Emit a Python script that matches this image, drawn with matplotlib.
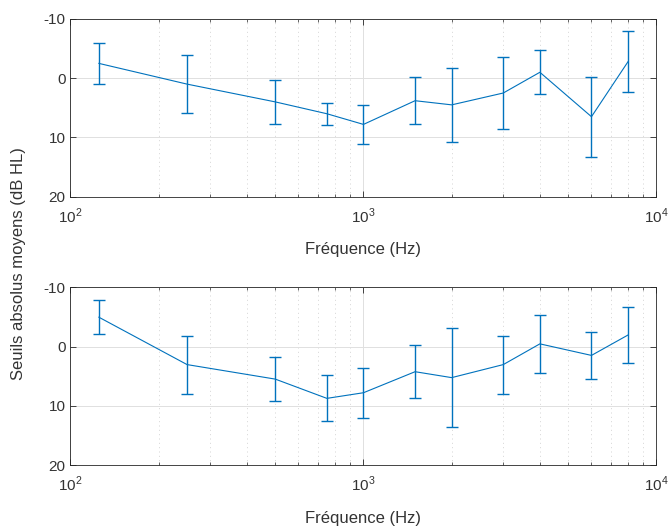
import numpy as np
import matplotlib
matplotlib.use("Agg")
import matplotlib.pyplot as plt
from matplotlib.ticker import LogLocator, FixedLocator, NullFormatter

plt.rcParams['font.family'] = ['Liberation Sans', 'DejaVu Sans']
plt.rcParams['mathtext.fontset'] = 'custom'
plt.rcParams['mathtext.rm'] = 'Liberation Sans'

freqs = [125, 250, 500, 750, 1000, 1500, 2000, 3000, 4000, 6000, 8000]

mean_top = [-2.5, 1.0, 4.0, 6.0, 7.8, 3.8, 4.5, 2.5, -1.0, 6.5, -2.8]
err_top = [3.5, 4.95, 3.7, 1.85, 3.3, 3.95, 6.3, 6.1, 3.75, 6.75, 5.1]

mean_bot = [-4.95, 3.05, 5.5, 8.75, 7.8, 4.25, 5.25, 3.05, -0.45, 1.5, -1.95]
err_bot = [2.85, 4.9, 3.7, 3.9, 4.2, 4.5, 8.35, 4.9, 4.9, 4.0, 4.8]

yticks = [-10, 0, 10, 20]
ytick_labels = ['-10', '0', '10', '20']
xlabel = 'Fréquence (Hz)'
ylabel = 'Seuils absolus moyens (dB HL)'

blue = '#0072BD'
axcol = '#262626'
txtcol = '#333333'

fig = plt.figure(figsize=(6.7, 5.28), dpi=100)
ax1 = fig.add_axes([0.1052, 0.6275, 0.8746, 0.3366])
ax2 = fig.add_axes([0.1052, 0.1193, 0.8746, 0.3366])

for ax, m, e in [(ax1, mean_top, err_top), (ax2, mean_bot, err_bot)]:
    ax.errorbar(freqs, m, yerr=e, color=blue, lw=0.8, elinewidth=1.0,
                capsize=4.3, capthick=1.0, zorder=3)
    ax.set_xscale('log')
    ax.set_xlim(100, 10000)
    ax.set_ylim(20, -10)
    ax.set_yticks(yticks)
    ax.set_yticklabels(ytick_labels)
    ax.xaxis.set_major_locator(FixedLocator([100, 1000, 10000]))
    ax.set_xticklabels([r'$10^2$', r'$10^3$', r'$10^4$'])
    ax.xaxis.set_minor_locator(LogLocator(base=10, subs=np.arange(2, 10)))
    ax.xaxis.set_minor_formatter(NullFormatter())
    ax.tick_params(which='both', direction='in', top=True, right=True,
                   colors=axcol, labelcolor=txtcol, labelsize=11)
    ax.tick_params(which='major', length=4, width=0.6)
    ax.tick_params(which='minor', length=2.5, width=0.5)
    ax.tick_params(axis='x', which='major', pad=7)
    ax.grid(True, which='major', color='#e0e0e0', lw=0.7)
    ax.grid(True, which='minor', axis='x', color='#cfcfcf', lw=0.6, ls=(0, (1.2, 4)))
    ax.set_axisbelow(True)
    for s in ax.spines.values():
        s.set_color(axcol)
        s.set_linewidth(0.6)
    ax.set_xlabel(xlabel, fontsize=12, color=txtcol, labelpad=12)

fig.text(0.028, 0.5, ylabel, rotation=90, va='center', ha='center',
         fontsize=12, color=txtcol)

fig.savefig('out.png', dpi=100)
